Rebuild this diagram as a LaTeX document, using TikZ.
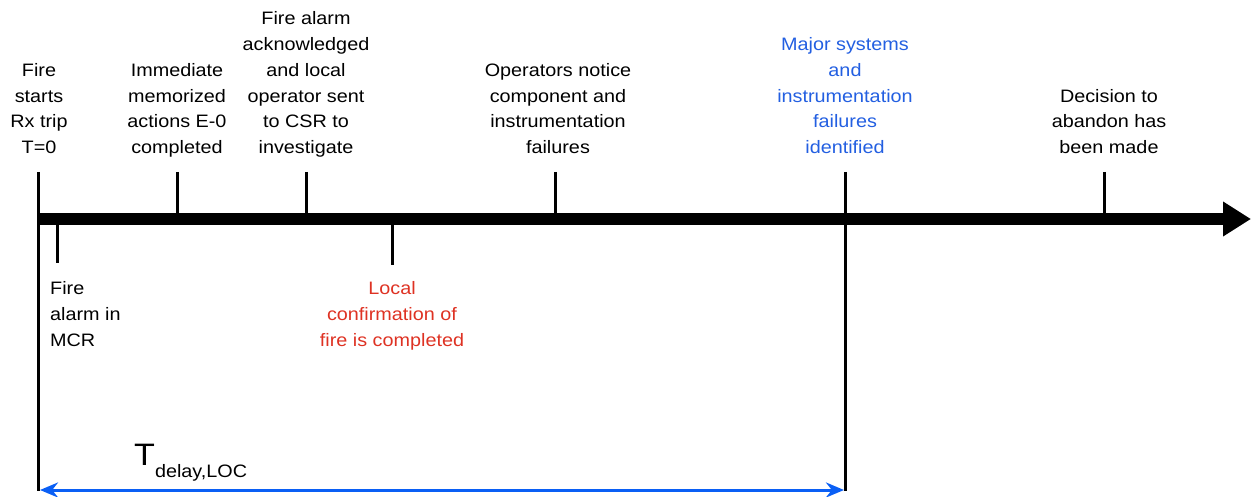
\documentclass[tikz,border=0pt]{standalone}
\usepackage{fontspec}
\setmainfont{Liberation Sans}[FakeStretch=1.1]
\usetikzlibrary{arrows.meta}
\definecolor{lblblue}{RGB}{35,95,225}
\definecolor{lblred}{RGB}{222,50,35}
\definecolor{arrblue}{RGB}{10,95,245}
\tikzset{
  lbl/.style={inner sep=0pt, align=center, text depth=0pt, anchor=south,
    font=\fontsize{18}{25.8}\selectfont},
  tick/.style={line width=3pt, line cap=butt},
  axisline/.style={line width=12pt, line cap=butt, -{Triangle[length=28pt,width=33pt]}},
  span/.style={arrblue, line width=3pt, {Stealth[length=18pt,width=15pt]}-{Stealth[length=18pt,width=15pt]}}
}
\begin{document}
\begin{tikzpicture}[x=1pt,y=1pt]
\useasboundingbox (0,0) rectangle (1251,-497);
% axis
\coordinate (axL) at (37,-219);
\coordinate (axR) at (1251,-219);
\draw[axisline] (axL) -- (axR);
% long verticals
\coordinate (v0top) at (38.5,-172);
\coordinate (v0bot) at (38.5,-491);
\coordinate (v5top) at (845,-172);
\coordinate (v5bot) at (845,-491);
\draw[tick] (v0top) -- (v0bot);
\draw[tick] (v5top) -- (v5bot);
% upward ticks
\coordinate (t1top) at (177,-172); \coordinate (t1ax) at (177,-219);
\coordinate (t2top) at (306,-172); \coordinate (t2ax) at (306,-219);
\coordinate (t3top) at (555,-172); \coordinate (t3ax) at (555,-219);
\coordinate (t6top) at (1104,-172); \coordinate (t6ax) at (1104,-219);
\draw[tick] (t1top) -- (t1ax);
\draw[tick] (t2top) -- (t2ax);
\draw[tick] (t3top) -- (t3ax);
\draw[tick] (t6top) -- (t6ax);
% downward ticks
\coordinate (d1ax) at (57,-219); \coordinate (d1bot) at (57,-263);
\coordinate (d2ax) at (392,-219); \coordinate (d2bot) at (392,-265);
\draw[tick] (d1ax) -- (d1bot);
\draw[tick] (d2ax) -- (d2bot);
% labels above
\node[lbl] (fire) at (39,-154) {Fire\\starts\\Rx trip\\T=0};
\node[lbl] (imm) at (177,-154) {Immediate\\memorized\\actions E-0\\completed};
\node[lbl] (ack) at (306,-154) {Fire alarm\\acknowledged\\and local\\operator sent\\to CSR to\\investigate};
\node[lbl] (ops) at (558,-154) {Operators notice\\component and\\instrumentation\\failures};
\node[lbl, text=lblblue] (major) at (845,-154) {Major systems\\and\\instrumentation\\failures\\identified};
\node[lbl] (dec) at (1109,-154) {Decision to\\abandon has\\been made};
% labels below
\node[lbl, anchor=south west, align=left] (mcr) at (50,-346.5) {Fire\\alarm in\\MCR};
\node[lbl, text=lblred] (loc) at (392,-346.5) {Local\\confirmation of\\fire is completed};
% delay span
\coordinate (sL) at (40,-490);
\coordinate (sR) at (844,-490);
\draw[span] (sL) -- (sR);
\node[inner sep=0pt, anchor=base west] (td) at (134,-465)
  {\fontsize{31}{31}\selectfont T\raisebox{-12pt}{\fontsize{18}{18}\selectfont delay,LOC}};
\end{tikzpicture}
\end{document}
